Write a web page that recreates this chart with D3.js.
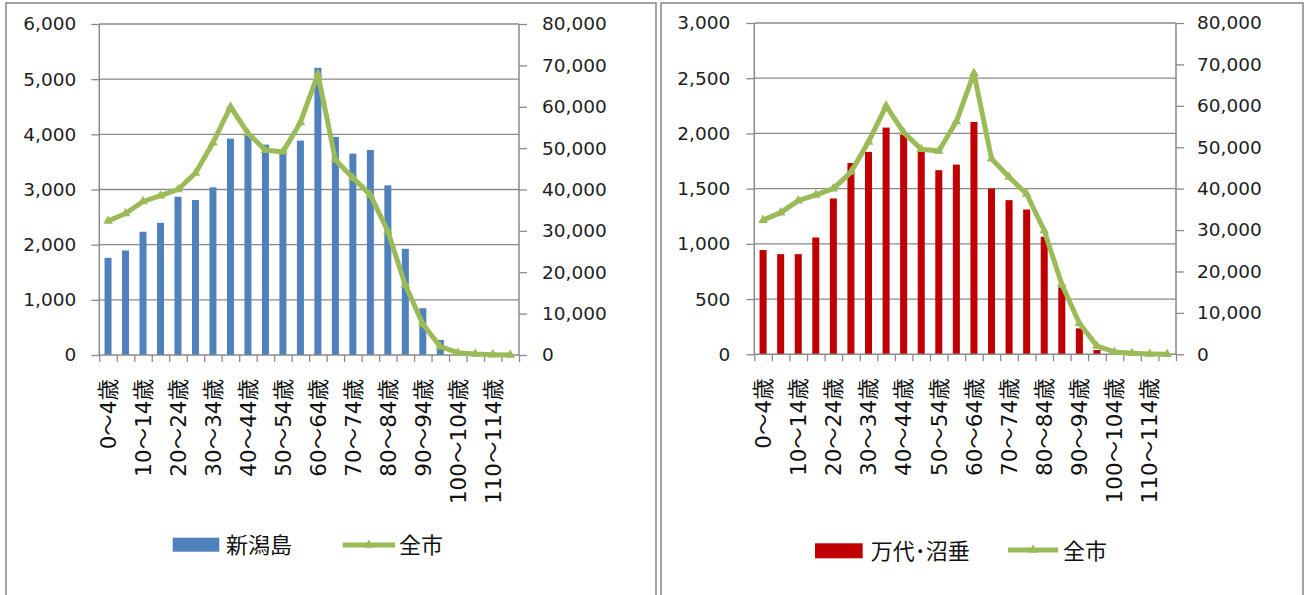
<!DOCTYPE html>
<html><head><meta charset="utf-8">
<script src="https://cdn.jsdelivr.net/npm/d3@7"></script>
<style>body{margin:0;background:#fff}svg{display:block}</style>
</head><body><svg id="c" width="1309" height="595"></svg>
<script>
// ---------- data ----------
const categories = ["0～4歳","5～9歳","10～14歳","15～19歳","20～24歳","25～29歳","30～34歳","35～39歳",
  "40～44歳","45～49歳","50～54歳","55～59歳","60～64歳","65～69歳","70～74歳","75～79歳",
  "80～84歳","85～89歳","90～94歳","95～99歳","100～104歳","105～109歳","110～114歳","115歳以上"];
const xLabelCategories = ["0～4歳","10～14歳","20～24歳","30～34歳","40～44歳","50～54歳",
  "60～64歳","70～74歳","80～84歳","90～94歳","100～104歳","110～114歳"];
const niigatajimaValues = [1761,1895,2234,2397,2869,2809,3039,3923,3971,3814,3700,3886,
  5206,3953,3650,3717,3075,1925,847,272,20,2,0,0];
const bandaiNuttariValues = [944,907,907,1058,1411,1733,1833,2053,1990,1848,1667,1718,
  2104,1501,1396,1311,1064,606,235,39,2,0,0,0];
const zenshiValues = [32400,34200,37100,38500,40000,44000,51300,60000,53600,49500,49100,56200,
  67900,47200,42800,38700,29900,16900,7500,2000,560,240,80,10];
const leftTicksA = [0,1000,2000,3000,4000,5000,6000];
const leftTicksB = [0,500,1000,1500,2000,2500,3000];
const rightTicks = [0,10000,20000,30000,40000,50000,60000,70000,80000];
const barSeriesNames = ["新潟島","万代･沼垂"];
const lineSeriesName = "全市";

// ---------- layout ----------
const svg = d3.select("#c");
const GREEN = "#9bbb59", GRID = "#8a8a8a";
const NUM_FONT = "'DejaVu Sans', Verdana, sans-serif";
const JP_FONT = "'DejaVu Sans','Noto Sans CJK JP', sans-serif";

const panels = [
  {box:{x:6,y:3,w:650,h:620}, plot:{l:99.3,r:519,t:24,b:355}, values:niigatajimaValues,
   color:"#4f81bd", leftTicks:leftTicksA, name:barSeriesNames[0],
   padL:15, padR:15,
   legend:{rx:172.7, ry:537.7, rw:46.6, rh:14, tx:226, ty:545, lx1:342.7, lx2:395, ly:545, t2x:399}},
  {box:{x:661,y:3,w:642,h:620}, plot:{l:754.3,r:1176,t:23,b:354.3}, values:bandaiNuttariValues,
   color:"#c00000", leftTicks:leftTicksB, name:barSeriesNames[1],
   padL:16, padR:13,
   legend:{rx:815, ry:543.3, rw:47.7, rh:15, tx:870.7, ty:551, lx1:1008, lx2:1058, ly:550, t2x:1063}}
];

panels.forEach(p => {
  const g = svg.append("g");
  g.append("rect").attr("x",p.box.x).attr("y",p.box.y).attr("width",p.box.w).attr("height",p.box.h)
    .attr("fill","#fff").attr("stroke","#8c8c8c").attr("stroke-width",1.6);

  const {l,r,t,b} = p.plot;
  const x = d3.scaleBand().domain(categories).range([l,r]).paddingInner(0.6).paddingOuter(0.3);
  const xb = d3.scaleLinear().domain([0,categories.length]).range([l,r]);
  const yL = d3.scaleLinear().domain([0,d3.max(p.leftTicks)]).range([b,t]);
  const yR = d3.scaleLinear().domain([0,d3.max(rightTicks)]).range([b,t]);

  // gridlines
  g.append("g").selectAll("line").data(p.leftTicks.filter(d=>d>0)).join("line")
    .attr("x1",l).attr("x2",r).attr("y1",d=>yL(d)).attr("y2",d=>yL(d))
    .attr("stroke",GRID).attr("stroke-width",1.3);

  // bars
  g.append("g").selectAll("rect").data(p.values).join("rect")
    .attr("x",(d,i)=>x(categories[i])).attr("width",x.bandwidth())
    .attr("y",d=>yL(d)).attr("height",d=>b-yL(d)).attr("fill",p.color);

  // left axis
  const ax1 = g.append("g").attr("transform",`translate(${l},0)`)
    .call(d3.axisLeft(yL).tickValues(p.leftTicks).tickSize(8).tickPadding(p.padL).tickFormat(d3.format(",")));
  // right axis
  const ax2 = g.append("g").attr("transform",`translate(${r},0)`)
    .call(d3.axisRight(yR).tickValues(rightTicks).tickSize(8).tickPadding(p.padR).tickFormat(d3.format(",")));
  // bottom axis: boundary ticks
  const ax3 = g.append("g").attr("transform",`translate(0,${b})`)
    .call(d3.axisBottom(xb).tickValues(d3.range(0,categories.length+1)).tickSize(7).tickFormat(""));
  [ax1,ax2,ax3].forEach(a=>{
    a.select(".domain").attr("stroke",GRID).attr("stroke-width",1.5);
    a.selectAll(".tick line").attr("stroke",GRID).attr("stroke-width",1.3);
    a.selectAll("text").attr("fill","#1e1e1e").style("font-family",NUM_FONT).style("font-size","18.5px");
  });
  ax1.select(".domain").attr("d",`M0,${b}V${t}`);
  ax2.select(".domain").attr("d",`M0,${b}V${t}`);
  ax3.select(".domain").attr("d",`M${l},0H${r}`);

  // x labels (rotated)
  g.append("g").selectAll("text").data(xLabelCategories).join("text")
    .attr("transform",d=>`translate(${x(d)+x.bandwidth()/2},${b+24}) rotate(-90)`)
    .attr("text-anchor","end").attr("dy","0.36em")
    .style("font-family",JP_FONT).style("font-size","21.5px").attr("fill","#111")
    .text(d=>d);

  // line
  const line = d3.line().x((d,i)=>x(categories[i])+x.bandwidth()/2).y(d=>yR(d));
  g.append("path").datum(zenshiValues).attr("d",line).attr("fill","none")
    .attr("stroke",GREEN).attr("stroke-width",5).attr("stroke-linejoin","round");
  g.append("g").selectAll("path").data(zenshiValues).join("path")
    .attr("transform",(d,i)=>`translate(${x(categories[i])+x.bandwidth()/2},${yR(d)})`)
    .attr("d",d3.symbol(d3.symbolTriangle,40)).attr("fill",GREEN);

  // legend
  const L = p.legend;
  g.append("rect").attr("x",L.rx).attr("y",L.ry).attr("width",L.rw).attr("height",L.rh).attr("fill",p.color);
  g.append("text").attr("x",L.tx).attr("y",L.ty).attr("dy","0.36em")
    .style("font-family","'Noto Sans CJK JP', sans-serif").style("font-size","22px").attr("fill","#111").text(p.name);
  g.append("line").attr("x1",L.lx1).attr("x2",L.lx2).attr("y1",L.ly).attr("y2",L.ly)
    .attr("stroke",GREEN).attr("stroke-width",5);
  g.append("path").attr("transform",`translate(${(L.lx1+L.lx2)/2},${L.ly})`)
    .attr("d",d3.symbol(d3.symbolTriangle,40)).attr("fill",GREEN);
  g.append("text").attr("x",L.t2x).attr("y",L.ty).attr("dy","0.36em")
    .style("font-family","'Noto Sans CJK JP', sans-serif").style("font-size","22px").attr("fill","#111").text(lineSeriesName);
});
</script></body></html>
